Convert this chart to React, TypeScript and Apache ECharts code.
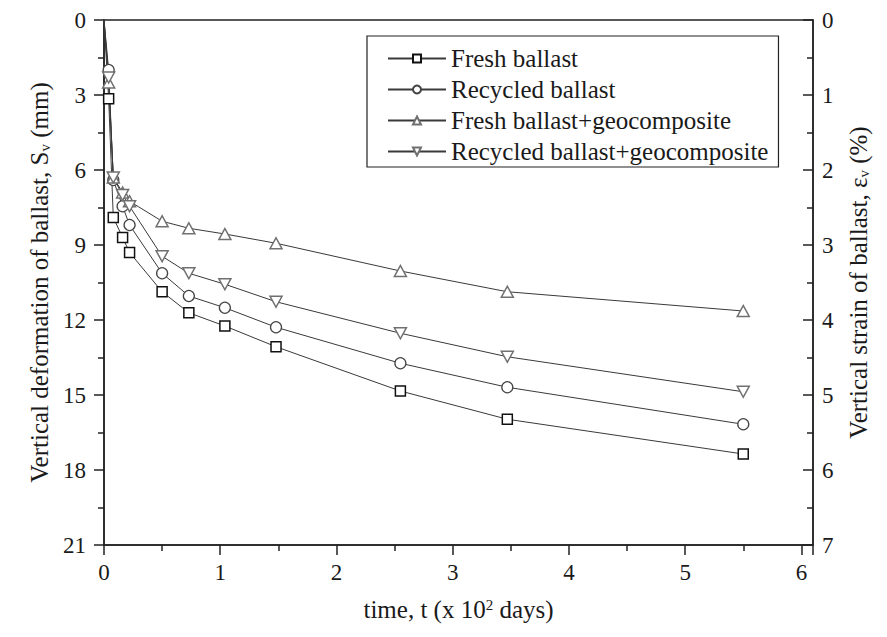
import React, { useEffect, useRef } from "react";
import * as echarts from "echarts";

// time in units of 10^2 days
const timeHundredDays = [0, 0.04, 0.08, 0.16, 0.22, 0.5, 0.73, 1.04, 1.48, 2.55, 3.47, 5.5];

// vertical deformation of ballast, Sv (mm)
const freshBallast = [0, 3.15, 7.9, 8.7, 9.3, 10.87, 11.71, 12.24, 13.07, 14.84, 15.97, 17.36];
const recycledBallast = [0, 2.0, 6.4, 7.45, 8.2, 10.13, 11.04, 11.51, 12.29, 13.73, 14.69, 16.17];
const freshGeocomposite = [0, 2.5, 6.3, 6.9, 7.25, 8.05, 8.33, 8.56, 8.93, 10.04, 10.87, 11.64];
const recycledGeocomposite = [0, 2.3, 6.3, 7.0, 7.45, 9.45, 10.13, 10.57, 11.27, 12.53, 13.47, 14.87];

const seriesNames = [
  "Fresh ballast",
  "Recycled ballast",
  "Fresh ballast+geocomposite",
  "Recycled ballast+geocomposite",
];

const FONT = "Liberation Serif";
const INK = "#1a1a1a";

function buildSeries(
  name: string,
  values: number[],
  symbol: string,
  size: number | number[],
  stroke: string,
  strokeWidth: number
) {
  return {
    name,
    type: "line",
    xAxisIndex: 0,
    yAxisIndex: 0,
    // the curves start from the origin, which carries no marker
    data: timeHundredDays.map((t, i) =>
      i === 0 ? { value: [t, values[i]], symbol: "none" } : [t, values[i]]
    ),
    symbol,
    symbolSize: size,
    showSymbol: true,
    lineStyle: { color: "#3a3a3a", width: 1 },
    itemStyle: { color: "#ffffff", borderColor: stroke, borderWidth: strokeWidth },
    emphasis: { disabled: true },
  };
}

export default function App() {
  const ref = useRef<HTMLDivElement>(null);

  useEffect(() => {
    if (!ref.current) return;
    const chart = echarts.init(ref.current, undefined, { renderer: "svg" });

    const axisLineStyle = { color: "#222", width: 1.5 };
    const titleStyle = (richKey: string, richStyle: object) => ({
      fontSize: 25,
      color: INK,
      fontFamily: FONT,
      rich: { [richKey]: { fontSize: 15, color: INK, fontFamily: FONT, ...richStyle } },
    });

    const option = {
      animation: false,
      backgroundColor: "#ffffff",
      textStyle: { fontFamily: FONT },
      grid: {
        left: 104,
        top: 20,
        width: 709,
        height: 525,
        show: true,
        borderColor: "#222",
        borderWidth: 1.5,
        backgroundColor: "transparent",
      },
      legend: {
        orient: "vertical",
        left: 367,
        top: 36,
        padding: [10, 10, 3, 20],
        itemWidth: 58,
        itemHeight: 10,
        itemGap: 6,
        borderColor: "#222",
        borderWidth: 1.2,
        backgroundColor: "#ffffff",
        textStyle: { fontSize: 25, color: INK, fontFamily: FONT },
        data: seriesNames,
      },
      xAxis: {
        type: "value",
        min: 0,
        max: 6.1,
        interval: 1,
        name: "time, t (x 10{sup|2} days)",
        nameLocation: "middle",
        nameGap: 52,
        nameTextStyle: titleStyle("sup", { verticalAlign: "top" }),
        axisLine: { onZero: false, lineStyle: axisLineStyle },
        axisTick: { inside: false, length: 10, lineStyle: axisLineStyle },
        minorTick: { show: true, splitNumber: 2, length: 6, lineStyle: axisLineStyle },
        axisLabel: {
          fontSize: 23,
          color: INK,
          fontFamily: FONT,
          margin: 16,
          showMaxLabel: false,
          formatter: (v: number) => (Number.isInteger(v) ? String(v) : ""),
        },
        splitLine: { show: false },
        minorSplitLine: { show: false },
      },
      yAxis: [
        {
          type: "value",
          position: "left",
          inverse: true,
          min: 0,
          max: 21,
          interval: 3,
          name: "Vertical deformation of ballast, S{sub|v} (mm)",
          nameLocation: "middle",
          nameRotate: 90,
          nameGap: 51,
          nameTextStyle: titleStyle("sub", { verticalAlign: "bottom" }),
          axisLine: { show: true, onZero: false, lineStyle: axisLineStyle },
          axisTick: { inside: false, length: 10, lineStyle: axisLineStyle },
          minorTick: { show: true, splitNumber: 2, length: 6, lineStyle: axisLineStyle },
          axisLabel: { fontSize: 23, color: INK, fontFamily: FONT, margin: 18 },
          splitLine: { show: false },
          minorSplitLine: { show: false },
        },
        {
          type: "value",
          position: "right",
          inverse: true,
          min: 0,
          max: 7,
          interval: 1,
          name: "Vertical strain of ballast, ε{sub|v} (%)",
          nameLocation: "middle",
          nameRotate: 90,
          nameGap: 33,
          nameTextStyle: titleStyle("sub", { verticalAlign: "bottom" }),
          axisLine: { show: true, onZero: false, lineStyle: axisLineStyle },
          axisTick: { inside: true, length: 10, lineStyle: axisLineStyle },
          minorTick: { show: true, splitNumber: 2, length: 6, lineStyle: axisLineStyle },
          axisLabel: { fontSize: 23, color: INK, fontFamily: FONT, margin: 9 },
          splitLine: { show: false },
          minorSplitLine: { show: false },
        },
      ],
      series: [
        buildSeries(seriesNames[0], freshBallast, "rect", 10, "#111111", 1.5),
        buildSeries(seriesNames[1], recycledBallast, "circle", 11, "#444444", 1.3),
        buildSeries(seriesNames[2], freshGeocomposite, "path://M5,0L10,9L0,9Z", [12, 11], "#707070", 1.5),
        buildSeries(seriesNames[3], recycledGeocomposite, "path://M0,0L10,0L5,9Z", [12, 11], "#707070", 1.5),
      ],
    };

    chart.setOption(option as any);
    return () => chart.dispose();
  }, []);

  return (
    <div
      ref={ref}
      style={{ position: "absolute", left: 0, top: 0, width: 887, height: 637, background: "#fff" }}
    />
  );
}
